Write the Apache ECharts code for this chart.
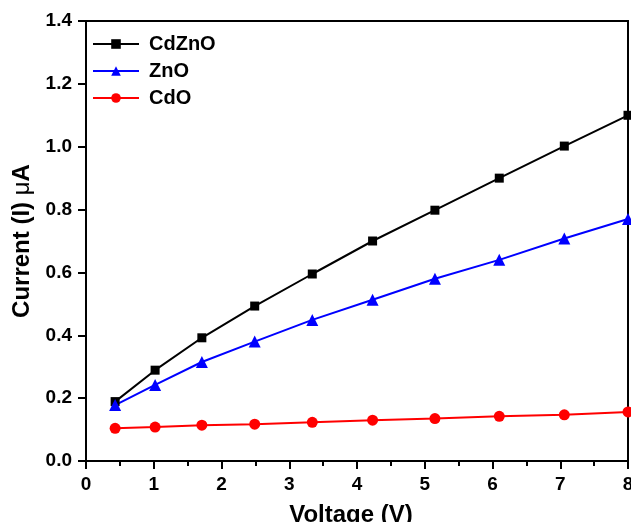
<!DOCTYPE html>
<html>
<head>
<meta charset="utf-8">
<script src="https://cdn.jsdelivr.net/npm/echarts@6/dist/echarts.min.js"></script>
<style>
  html, body { margin: 0; padding: 0; background: #fff; }
  #chart { width: 631px; height: 522px; }
</style>
</head>
<body>
<div id="chart"></div>
<script>
// 电压 (V)
const voltage = [0.43, 1.02, 1.71, 2.49, 3.34, 4.23, 5.15, 6.10, 7.06, 8.0];
// 电流 (μA)
const cdZnO = [0.189, 0.289, 0.392, 0.493, 0.595, 0.700, 0.798, 0.900, 1.002, 1.100];
const znO = [0.178, 0.242, 0.315, 0.380, 0.449, 0.513, 0.580, 0.640, 0.708, 0.770];
const cdO = [0.104, 0.108, 0.114, 0.117, 0.123, 0.130, 0.135, 0.142, 0.147, 0.156];

const seriesNames = ["CdZnO", "ZnO", "CdO"];
const xTicks = [0, 1, 2, 3, 4, 5, 6, 7, 8];
const yTicks = [0.0, 0.2, 0.4, 0.6, 0.8, 1.0, 1.2, 1.4];

const font = "Liberation Sans";
const toPairs = ys => voltage.map((v, i) => [v, ys[i]]);

const chart = echarts.init(document.getElementById("chart"));

const mkSeries = (name, data, color, symbol, size) => ({
  name,
  type: "line",
  data: toPairs(data),
  symbol,
  symbolSize: size,
  lineStyle: { width: 2, color },
  itemStyle: { color },
  animation: false
});

chart.setOption({
  animation: false,
  grid: {
    left: 86, right: 3, top: 21, bottom: 61,
    outerBoundsMode: "none",
    containLabel: false,
    show: true, borderColor: "#000", borderWidth: 2
  },
  legend: {
    orient: "vertical",
    left: 92,
    top: 34,
    padding: 0,
    itemWidth: 46,
    itemHeight: 12,
    itemGap: 7,
    data: seriesNames,
    textStyle: {
      fontFamily: font, fontWeight: "bold", fontSize: 20, color: "#000",
      padding: [0, 0, 0, 5]
    }
  },
  xAxis: {
    type: "value",
    min: xTicks[0],
    max: xTicks[xTicks.length - 1],
    interval: 1,
    name: "Voltage (V)",
    nameLocation: "middle",
    nameGap: 42,
    nameTextStyle: {
      fontFamily: font, fontWeight: "bold", fontSize: 24, color: "#000",
      padding: [0, 12, 0, 0]
    },
    axisLine: { show: true, lineStyle: { color: "#000", width: 2 } },
    axisTick: { show: true, inside: false, length: 8, lineStyle: { width: 2, color: "#000" } },
    minorTick: { show: true, splitNumber: 2, length: 5, lineStyle: { width: 2, color: "#000" } },
    splitLine: { show: false },
    axisLabel: {
      margin: 14,
      hideOverlap: false,
      fontFamily: font, fontWeight: "bold", fontSize: 19, color: "#000"
    }
  },
  yAxis: {
    type: "value",
    min: yTicks[0],
    max: yTicks[yTicks.length - 1],
    interval: 0.2,
    name: "{b|Current (I) }{m|μ}{b|A}",
    nameLocation: "middle",
    nameGap: 48,
    nameTextStyle: {
      rich: {
        b: { fontFamily: font, fontWeight: "bold", fontSize: 24, color: "#000" },
        m: { fontFamily: font, fontWeight: "normal", fontSize: 24, color: "#000" }
      }
    },
    axisLine: { show: true, lineStyle: { color: "#000", width: 2 } },
    axisTick: { show: true, inside: false, length: 8, lineStyle: { width: 2, color: "#000" } },
    splitLine: { show: false },
    axisLabel: {
      margin: 14,
      formatter: v => v.toFixed(1),
      fontFamily: font, fontWeight: "bold", fontSize: 19, color: "#000"
    }
  },
  series: [
    mkSeries(seriesNames[0], cdZnO, "#000000", "rect", 9),
    mkSeries(seriesNames[1], znO, "#0000ff", "triangle", 12),
    mkSeries(seriesNames[2], cdO, "#ff0000", "circle", 11)
  ]
});
</script>
</body>
</html>
